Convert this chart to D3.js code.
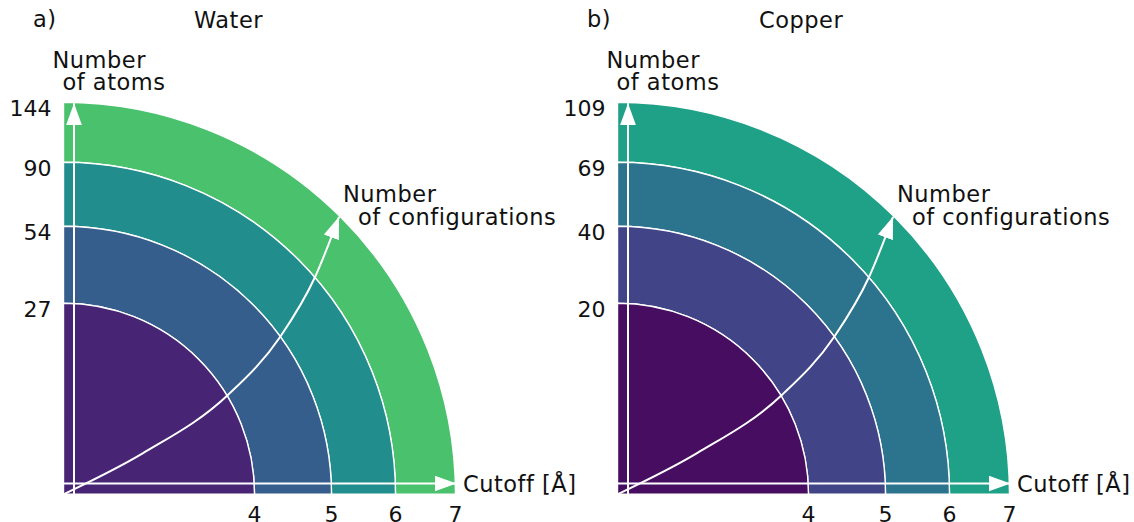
<!DOCTYPE html>
<html lang="en">
<head>
    <meta charset="UTF-8">
    <title>Cutoff vs number of atoms</title>
    <style>
        body {
            margin: 0;
            padding: 0;
            background-color: #ffffff;
        }
        svg {
            display: block;
            font-family: "DejaVu Sans", Verdana, sans-serif;
        }
        .lbl {
            font-size: 22.5px;
            letter-spacing: 0.5px;
            fill: #111;
        }
        .tick {
            font-size: 22px;
            fill: #111;
        }
    </style>
</head>
<body>
    <svg width="1134" height="522"></svg>

    <script src="https://d3js.org/d3.v7.min.js"></script>
    <script>
        // cutoff radii (Å) shared by both panels
        let cutoffs = [4, 5, 6, 7];

        // number of atoms for each cutoff
        let waterAtoms = [27, 54, 90, 144];
        let copperAtoms = [20, 40, 69, 109];

        let panelLetters = ["a)", "b)"];
        let panelTitles = ["Water", "Copper"];

        // schematic "number of configurations" arrow, as fractions of the outer radius
        let configCurve = [
            [0.0, 0.0], [0.203, 0.105], [0.42, 0.254],
            [0.553, 0.402], [0.642, 0.555], [0.703, 0.708]
        ];

        let width = 1134, height = 522;
        let svg = d3.select("svg");

        // radius for each cutoff (drawing is schematic, not linear)
        let rScale = d3.scaleLinear()
            .domain([0, 4, 5, 6, 7])
            .range([0, 191, 268, 332, 392]);

        let unit = d3.scaleLinear().domain([0, 1]).range([0, 392]);

        // colour by number of atoms
        let colorScale = d3.scaleSequentialSqrt(d3.interpolateViridis)
            .domain([16.8, 230]);

        let arc = d3.arc()
            .startAngle(0)
            .endAngle(Math.PI / 2);

        let defs = svg.append("defs");
        defs.append("marker")
            .attr("id", "head")
            .attr("markerUnits", "userSpaceOnUse")
            .attr("markerWidth", 24)
            .attr("markerHeight", 18)
            .attr("viewBox", "0 -9 24 18")
            .attr("refX", 22)
            .attr("refY", 0)
            .attr("orient", "auto")
            .append("path")
            .attr("d", "M0,-8L22,0L0,8Z")
            .attr("fill", "white");

        let line = d3.line()
            .x(d => unit(d[0]))
            .y(d => -unit(d[1]))
            .curve(d3.curveMonotoneX);

        let panels = [
            { letter: panelLetters[0], title: panelTitles[0], atoms: waterAtoms, x0: 63.5, tx: 130.5 },
            { letter: panelLetters[1], title: panelTitles[1], atoms: copperAtoms, x0: 617.5, tx: 141.5 }
        ];

        panels.forEach(p => {
            let g = svg.append("g")
                .attr("transform", `translate(${p.x0}, 494.3)`);

            let rings = cutoffs.map((c, i) => ({
                inner: i == 0 ? 0 : rScale(cutoffs[i - 1]),
                outer: rScale(c),
                atoms: p.atoms[i]
            }));

            // rings, outermost first
            g.selectAll("path.ring")
                .data(rings.slice().reverse())
                .enter()
                .append("path")
                .attr("class", "ring")
                .attr("d", d => arc.innerRadius(d.inner).outerRadius(d.outer)())
                .attr("fill", d => colorScale(d.atoms))
                .attr("stroke", "white")
                .attr("stroke-width", 1.4);

            // axes arrows
            let top = rScale(cutoffs[cutoffs.length - 1]);
            g.append("line")
                .attr("x1", 10.5).attr("y1", 0)
                .attr("x2", 10.5).attr("y2", -top + 1)
                .attr("stroke", "white")
                .attr("stroke-width", 2)
                .attr("marker-end", "url(#head)");
            g.append("line")
                .attr("x1", 0).attr("y1", -10.8)
                .attr("x2", top + 1).attr("y2", -10.8)
                .attr("stroke", "white")
                .attr("stroke-width", 2)
                .attr("marker-end", "url(#head)");

            // number of configurations
            g.append("path")
                .attr("d", line(configCurve))
                .attr("fill", "none")
                .attr("stroke", "white")
                .attr("stroke-width", 2)
                .attr("marker-end", "url(#head)");

            // y tick labels (atoms)
            g.selectAll("text.ytick")
                .data(rings)
                .enter()
                .append("text")
                .attr("class", "tick ytick")
                .attr("x", -12)
                .attr("y", d => -d.outer + 14)
                .attr("text-anchor", "end")
                .text(d => d.atoms);

            // x tick labels (cutoff)
            g.selectAll("text.xtick")
                .data(cutoffs)
                .enter()
                .append("text")
                .attr("class", "tick xtick")
                .attr("x", d => rScale(d))
                .attr("y", 28)
                .attr("text-anchor", "middle")
                .text(d => d);

            // labels
            g.append("text").attr("class", "lbl")
                .attr("x", -30.5).attr("y", -467).text(p.letter);
            g.append("text").attr("class", "lbl")
                .attr("x", p.tx).attr("y", -466).text(p.title);
            g.append("text").attr("class", "lbl")
                .attr("x", -11).attr("y", -426).text("Number");
            g.append("text").attr("class", "lbl")
                .attr("x", -1).attr("y", -404).text("of atoms");
            g.append("text").attr("class", "lbl")
                .attr("x", 279.5).attr("y", -292).text("Number");
            g.append("text").attr("class", "lbl")
                .attr("x", 294.5).attr("y", -269).text("of configurations");
            g.append("text").attr("class", "lbl")
                .attr("x", 399.5).attr("y", -2.6).text("Cutoff [Å]");
        });
    </script>
</body>
</html>
